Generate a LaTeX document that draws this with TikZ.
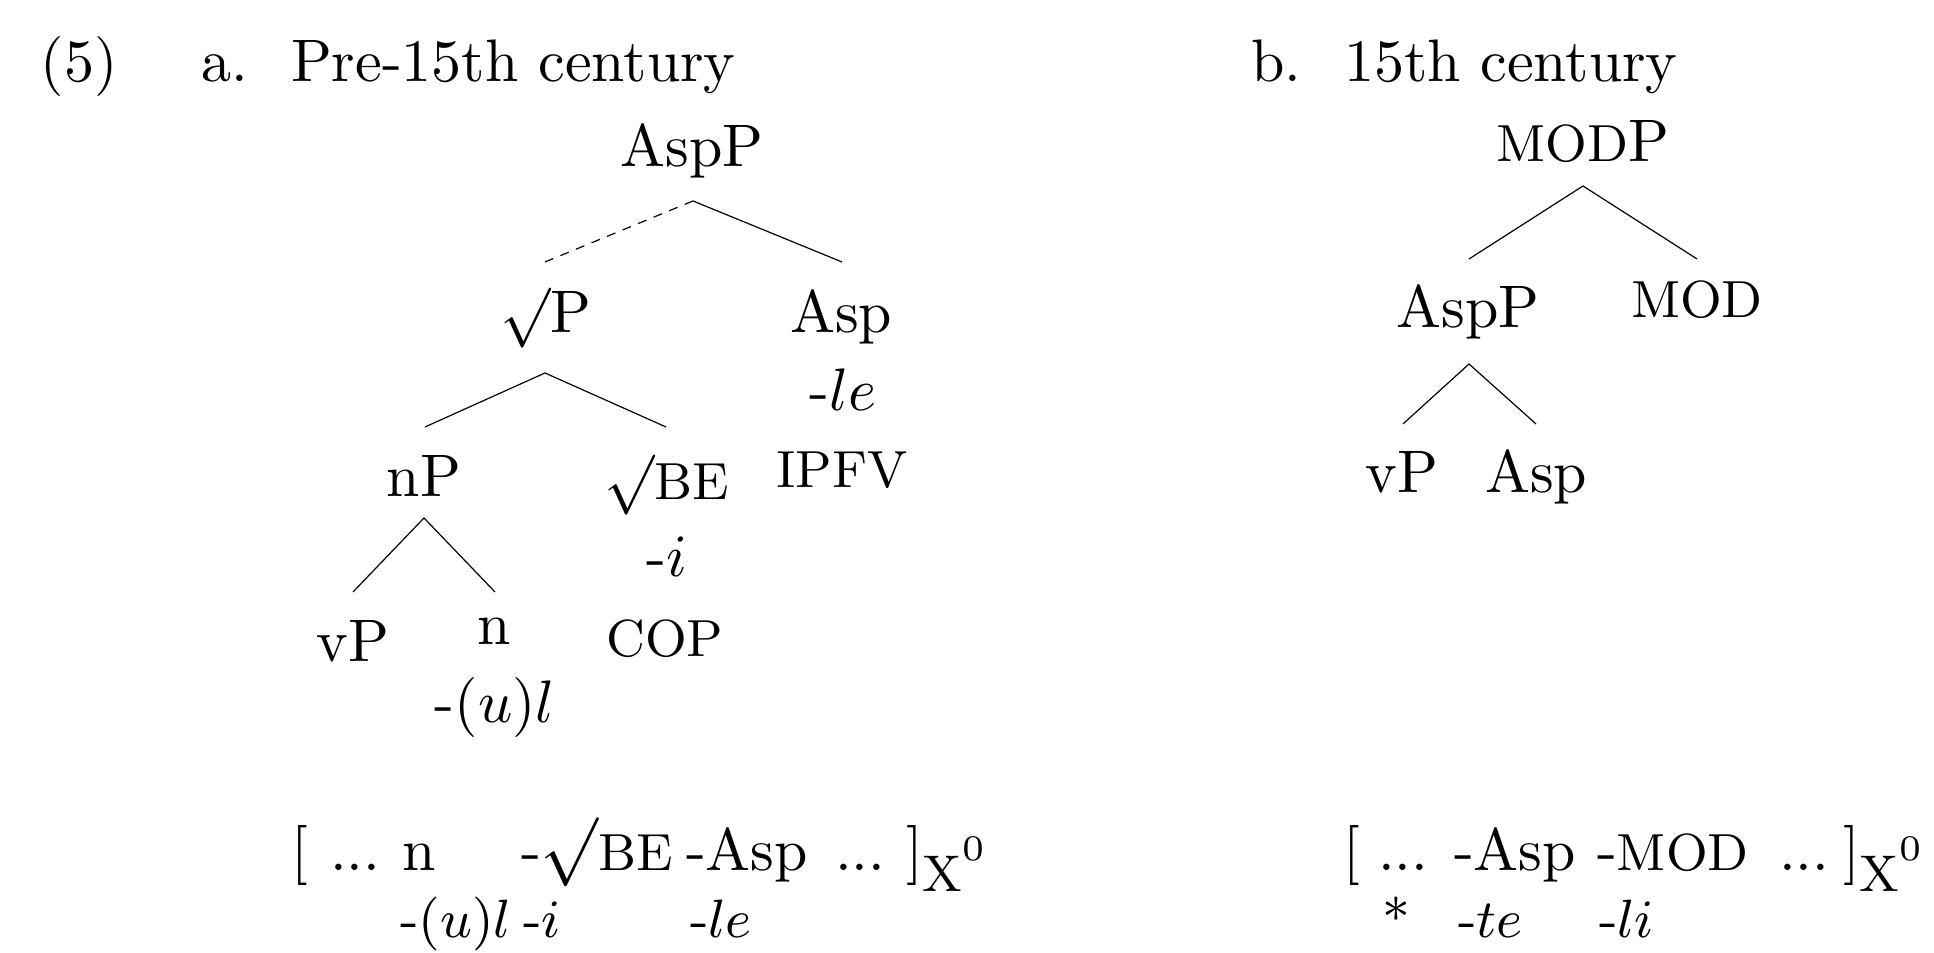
\documentclass[tikz,border=0pt]{standalone}
\newcommand{\rt}{$\surd$}
\newcommand{\brt}{\raisebox{0.03em}{\scalebox{1.15}{$\surd$}}}
\newcommand{\fsc}[1]{{\fontsize{8.7}{10}\selectfont #1}}
\newcommand{\xzero}{\raisebox{-0.34em}{\fontsize{8.6}{10}\selectfont X\raisebox{0.6em}{\fontsize{6}{7}\selectfont 0}}}
\begin{document}
\begin{tikzpicture}[x=0.166667pt,y=-0.166667pt,
  every node/.style={inner sep=0pt, outer sep=0pt, font=\fontsize{10}{12}\selectfont},
  lbl/.style={anchor=base},
  wl/.style={anchor=base west},
  gloss/.style={anchor=base west, font=\fontsize{9}{11}\selectfont},
  branch/.style={line width=0.2pt},
  dbranch/.style={branch, dash pattern=on 1.5pt off 1.3pt}]
\useasboundingbox (0,0) rectangle (1934,953);

% titles
\node[wl] (ex) at (41,82) {(5)};
\node[wl] (la) at (202,82) {a.};
\node[wl] (ta) at (291,82) {Pre-15th century};
\node[wl] (lb) at (1251,82) {b.};
\node[wl] (tb) at (1344,82) {15th century};

% tree a
\node[lbl] (AspPa) at (692,167) {AspP};
\node[lbl] (sqrtP) at (546,333) {\rt P};
\node[lbl] (Aspa) at (841,333) {Asp};
\node[lbl] (lea) at (843,411) {-$le$};
\node[lbl] (ipfv) at (842,488) {\fsc{IPFV}};
\node[lbl] (nP) at (424,497) {nP};
\node[lbl] (sqrtBE) at (667,500) {\rt\fsc{BE}};
\node[lbl] (ia) at (667,577) {-$i$};
\node[lbl] (cop) at (665,657) {\fsc{COP}};
\node[lbl] (vPa) at (353,662) {vP};
\node[lbl] (na) at (494,645) {n};
\node[lbl] (ula) at (495,723) {-$(u)l$};

\coordinate (AspPa-b) at (693,201);
\coordinate (sqrtP-t) at (545,262);
\coordinate (Aspa-t) at (842,262);
\coordinate (sqrtP-b) at (545,373);
\coordinate (nP-t) at (425,427);
\coordinate (sqrtBE-t) at (666,427);
\coordinate (nP-b) at (424,518);
\coordinate (vPa-t) at (353,592);
\coordinate (na-t) at (495,592);

\draw[dbranch] (AspPa-b) -- (sqrtP-t);
\draw[branch] (AspPa-b) -- (Aspa-t);
\draw[branch] (nP-t) -- (sqrtP-b) -- (sqrtBE-t);
\draw[branch] (vPa-t) -- (nP-b) -- (na-t);

% tree b
\node[lbl] (modP) at (1583,162) {\fsc{MOD}P};
\node[lbl] (AspPb) at (1468,328) {AspP};
\node[lbl] (mod) at (1697,318) {\fsc{MOD}};
\node[lbl] (vPb) at (1402,493) {vP};
\node[lbl] (Aspb) at (1536,493) {Asp};

\coordinate (modP-b) at (1583,186);
\coordinate (AspPb-t) at (1469,259);
\coordinate (mod-t) at (1697,259);
\coordinate (AspPb-b) at (1469,364);
\coordinate (vPb-t) at (1403,424);
\coordinate (Aspb-t) at (1536,424);

\draw[branch] (AspPb-t) -- (modP-b) -- (mod-t);
\draw[branch] (vPb-t) -- (AspPb-b) -- (Aspb-t);

% bracket a
\node[wl] (a1) at (291,871) {[};
\node[wl] (a2) at (330,871) {...};
\node[wl] (a3) at (402,871) {n};
\node[gloss] (a3g) at (400,938) {-$(u)l$};
\node[wl] (a4) at (521,871) {-\brt\fsc{BE}};
\node[gloss] (a4g) at (523,938) {-$i$};
\node[wl] (a5) at (686,871) {-Asp};
\node[gloss] (a5g) at (690,938) {-$le$};
\node[wl] (a6) at (835,871) {...};
\node[wl] (a7) at (906,871) {]\xzero};

% bracket b
\node[wl] (b1) at (1343,871) {[};
\node[wl] (b2) at (1378,871) {...};
\node[gloss] (b2g) at (1382,938) {*};
\node[wl] (b3) at (1454,871) {-Asp};
\node[gloss] (b3g) at (1458,938) {-$te$};
\node[wl] (b4) at (1597,871) {-\fsc{MOD}};
\node[gloss] (b4g) at (1599,938) {-$li$};
\node[wl] (b5) at (1779,871) {...};
\node[wl] (b6) at (1843,871) {]\xzero};
\end{tikzpicture}
\end{document}
